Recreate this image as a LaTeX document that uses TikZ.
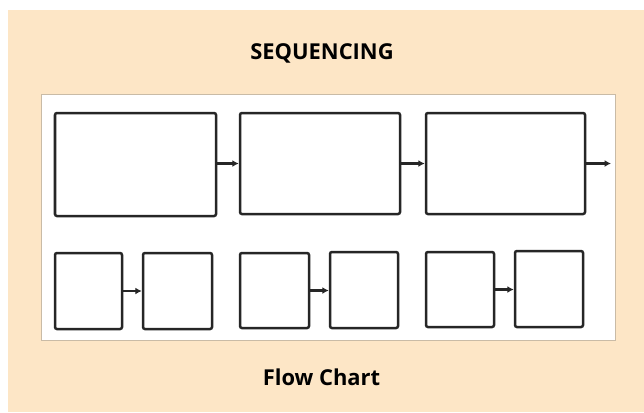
\documentclass[tikz,border=0pt]{standalone}
\usepackage{fontspec}
\setmainfont{Open Sans}
\usetikzlibrary{arrows.meta}
\definecolor{peach}{HTML}{FDE6C6}
\definecolor{panelrim}{HTML}{C9BBA6}
\definecolor{ink}{HTML}{262626}
\tikzset{
  stepbox/.style={draw=ink, line width=2.5bp, rounded corners=2bp,
    inner sep=0pt, fill=white},
  link/.style={draw=ink, line width=2.3bp,
    -{Latex[length=6.5bp,width=7bp]}},
  caption/.style={font=\fontsize{22}{26}\selectfont\bfseries, text=black}
}
\begin{document}
\begin{tikzpicture}[x=1bp,y=-1bp]
  \useasboundingbox (0,0) rectangle (644,412);
  % page and backdrop
  \fill[white] (0,0) rectangle (644,412);
  \fill[peach] (8,10) rectangle (644,412);
  % white panel holding the chart
  \draw[panelrim, line width=0.9bp, fill=white] (41,94.5) rectangle (615,340.5);

  \node[caption] (title) at (322,53) {SEQUENCING};
  \node[caption] (foot) at (321.5,377) {Flow Chart};

  % upper row: three long steps
  \node[stepbox, minimum width=161bp, minimum height=103bp] (t1) at (135.5,164.5) {};
  \node[stepbox, minimum width=160bp, minimum height=101bp] (t2) at (320,163.5) {};
  \node[stepbox, minimum width=159bp, minimum height=101bp] (t3) at (505.5,163.5) {};
  \coordinate (tout) at (611,163.5);

  \draw[link] (t1.east |- t2.east) -- (t2.west);
  \draw[link] (t2.east) -- (t3.west);
  \draw[link] (t3.east) -- (tout);

  % lower row: three pairs of short steps
  \node[stepbox, minimum width=67bp, minimum height=76bp] (a1) at (88.5,291) {};
  \node[stepbox, minimum width=69bp, minimum height=76bp] (a2) at (177.5,291) {};
  \node[stepbox, minimum width=69bp, minimum height=75bp] (b1) at (274.5,290.5) {};
  \node[stepbox, minimum width=68bp, minimum height=76bp] (b2) at (364,290) {};
  \node[stepbox, minimum width=68bp, minimum height=75bp] (c1) at (460,289.5) {};
  \node[stepbox, minimum width=68bp, minimum height=76bp] (c2) at (549,289) {};

  \draw[link] (a1.east) -- (a2.west);
  \draw[link] (b1.east) -- (b2.west |- b1.east);
  \draw[link] (c1.east) -- (c2.west |- c1.east);
\end{tikzpicture}
\end{document}
